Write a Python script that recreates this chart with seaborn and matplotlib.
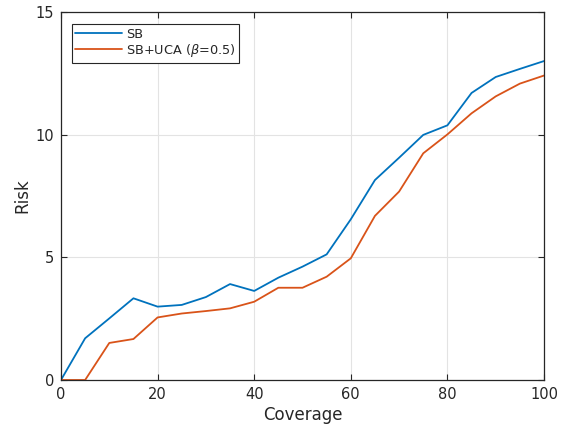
import matplotlib
matplotlib.use("Agg")
import matplotlib.pyplot as plt
import seaborn as sns
import pandas as pd

coverage = [0, 5, 10, 15, 20, 25, 30, 35, 40, 45, 50, 55, 60, 65, 70, 75, 80, 85, 90, 95, 100]
risk_sb = [0.0, 1.70, 2.51, 3.33, 2.99, 3.06, 3.38, 3.91, 3.63, 4.17, 4.62, 5.12, 6.55, 8.15, 9.06,
           9.99, 10.38, 11.70, 12.35, 12.68, 13.0]
risk_uca = [0.0, 0.0, 1.51, 1.67, 2.55, 2.71, 2.81, 2.92, 3.19, 3.76, 3.76, 4.21, 4.96, 6.69, 7.68,
            9.24, 10.01, 10.87, 11.56, 12.08, 12.41]
series_names = ["SB", r"SB+UCA ($\beta$=0.5)"]
colors = ["#0072BD", "#D95319"]
xticks = [0, 20, 40, 60, 80, 100]
yticks = [0, 5, 10, 15]

df = pd.DataFrame({
    "Coverage": coverage * 2,
    "Risk": risk_sb + risk_uca,
    "Method": [series_names[0]] * len(coverage) + [series_names[1]] * len(coverage),
})

sns.set_theme(style="white")
plt.rcParams["font.family"] = ["DejaVu Sans"]
plt.rcParams["mathtext.fontset"] = "dejavusans"

fig = plt.figure(figsize=(5.62, 4.25), dpi=100)
ax = fig.add_axes([0.1085, 0.1059, 0.8595, 0.8659])

sns.lineplot(data=df, x="Coverage", y="Risk", hue="Method", palette=colors,
             linewidth=1.3, ax=ax, legend=True)

ax.set_xlim(0, 100)
ax.set_ylim(0, 15)
ax.set_xticks(xticks)
ax.set_yticks(yticks)
ax.grid(True, color="#e3e3e3", linewidth=0.8)
ax.set_axisbelow(True)
for s in ax.spines.values():
    s.set_color("#262626")
    s.set_linewidth(0.9)
    s.set_visible(True)
ax.tick_params(direction="in", length=4, width=0.8, colors="#262626",
               labelsize=10.5, top=True, right=True, bottom=True, left=True, pad=5)
ax.set_xlabel("Coverage", fontsize=12, color="#262626", labelpad=3)
ax.set_ylabel("Risk", fontsize=12, color="#262626", labelpad=3)

leg = ax.legend(loc="upper left", bbox_to_anchor=(0.022, 0.968), fontsize=9.3,
                frameon=True, fancybox=False, framealpha=1, edgecolor="#262626",
                handlelength=3.6, handletextpad=0.3, borderpad=0.3, labelspacing=0.1,
                borderaxespad=0)
leg.get_frame().set_linewidth(0.8)
leg.set_title(None)

fig.savefig("out.png", dpi=100)
